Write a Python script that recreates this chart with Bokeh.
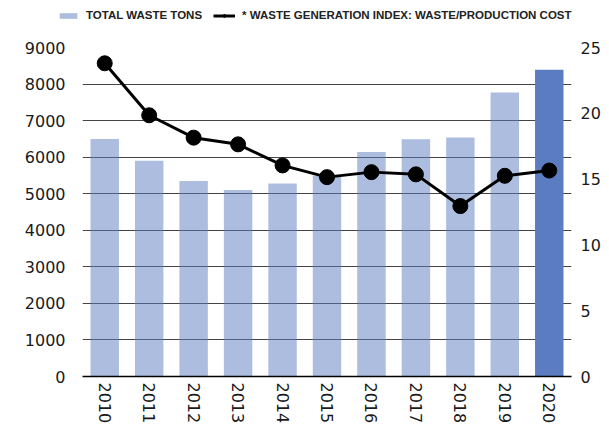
from bokeh.plotting import figure
from bokeh.layouts import column
from bokeh.models import (FactorRange, Range1d, LinearAxis, ColumnDataSource,
                          Legend, LegendItem, FixedTicker)
from bokeh.embed import file_html
from bokeh.resources import INLINE

years = ["2010", "2011", "2012", "2013", "2014", "2015", "2016", "2017", "2018", "2019", "2020"]
waste_tons = [6500, 5900, 5350, 5100, 5280, 5500, 6140, 6490, 6540, 7770, 8390]
waste_index = [23.8, 19.85, 18.15, 17.64, 16.04, 15.15, 15.53, 15.36, 12.95, 15.25, 15.65]
bar_alpha = [0.5] * 10 + [1.0]
left_ticks = [0, 1000, 2000, 3000, 4000, 5000, 6000, 7000, 8000, 9000]
right_ticks = [0, 5, 10, 15, 20, 25]
legend_labels = ["TOTAL WASTE TONS", "* WASTE GENERATION INDEX: WASTE/PRODUCTION COST"]

BAR_COLOR = "#5B7CC0"
LABEL_FONT = "DejaVu Sans"

# ---------------- main chart ----------------
p = figure(width=609, height=396, x_range=FactorRange(*years, range_padding=0),
           y_range=Range1d(0, 9000), output_backend="svg", toolbar_location=None,
           min_border_left=82, min_border_right=38, min_border_top=17, min_border_bottom=50)
p.outline_line_color = None
p.extra_y_ranges = {"idx": Range1d(0, 25)}

src = ColumnDataSource(dict(year=years, tons=waste_tons, idx=waste_index, alpha=bar_alpha))
bars = p.vbar(x="year", top="tons", width=0.64, fill_color=BAR_COLOR, fill_alpha="alpha",
              line_color=None, source=src)
ln = p.line(x="year", y="idx", y_range_name="idx", line_color="black", line_width=3, source=src)
pts = p.scatter(x="year", y="idx", y_range_name="idx", size=15, color="black", source=src)

ya = p.yaxis[0]
ya.ticker = FixedTicker(ticks=left_ticks)
ya.axis_line_color = None
ya.major_tick_line_color = None
ya.minor_tick_line_color = None
ya.major_tick_out = 0
ya.minor_tick_out = 0
ya.major_label_standoff = 17
ya.major_label_text_font = LABEL_FONT
ya.major_label_text_font_size = "16px"
ya.major_label_text_color = "#1a1a1a"

ra = LinearAxis(y_range_name="idx", ticker=FixedTicker(ticks=right_ticks))
ra.axis_line_color = None
ra.major_tick_line_color = None
ra.minor_tick_line_color = None
ra.major_tick_in = 0
ra.major_tick_out = 0
ra.minor_tick_in = 0
ra.minor_tick_out = 0
ra.major_label_standoff = 9
ra.major_label_text_font = LABEL_FONT
ra.major_label_text_font_size = "16px"
ra.major_label_text_color = "#1a1a1a"
p.add_layout(ra, "right")

xa = p.xaxis[0]
xa.axis_line_color = "black"
xa.axis_line_width = 1.5
xa.major_tick_line_color = None
xa.minor_tick_line_color = None
xa.major_tick_out = 0
xa.minor_tick_out = 0
xa.major_label_orientation = "vertical"
xa.major_label_standoff = 6
xa.major_label_text_font = LABEL_FONT
xa.major_label_text_font_size = "16px"
xa.major_label_text_color = "#1a1a1a"

p.xgrid.grid_line_color = None
p.ygrid.ticker = FixedTicker(ticks=left_ticks[1:])
p.ygrid.grid_line_color = "#444444"
p.ygrid.grid_line_width = 1

# ---------------- legend strip ----------------
lg = figure(width=609, height=30, x_range=Range1d(0, 1), y_range=Range1d(0, 1),
            output_backend="svg", toolbar_location=None,
            min_border_left=0, min_border_right=0, min_border_top=0, min_border_bottom=0,
            x_axis_location=None, y_axis_location=None)
lg.frame_align = False
lg.outline_line_color = None
lg.grid.visible = False
offscreen = ColumnDataSource(dict(x=[-10], y=[-10], top=[-10]))
lbar = lg.vbar(x="x", top="top", width=0.5, fill_color=BAR_COLOR, fill_alpha=0.5,
               line_color=None, source=offscreen)
lline = lg.line(x="x", y="y", line_color="black", line_width=3, source=offscreen)
lpts = lg.scatter(x="x", y="y", size=15, color="black", source=offscreen)

legend = Legend(items=[LegendItem(label=legend_labels[0], renderers=[lbar]),
                       LegendItem(label=legend_labels[1], renderers=[lline, lpts])],
                orientation="horizontal", location=(57, 9), padding=0, margin=0,
                border_line_color=None, background_fill_alpha=0,
                glyph_width=22, glyph_height=7, label_height=12, label_standoff=7, spacing=11,
                label_text_font="Liberation Sans", label_text_font_style="bold",
                label_text_font_size="11.5px", label_text_color="#222222")
lg.add_layout(legend, "center")

layout = column(lg, p, spacing=0)
open("out.html", "w").write(file_html(layout, INLINE))
